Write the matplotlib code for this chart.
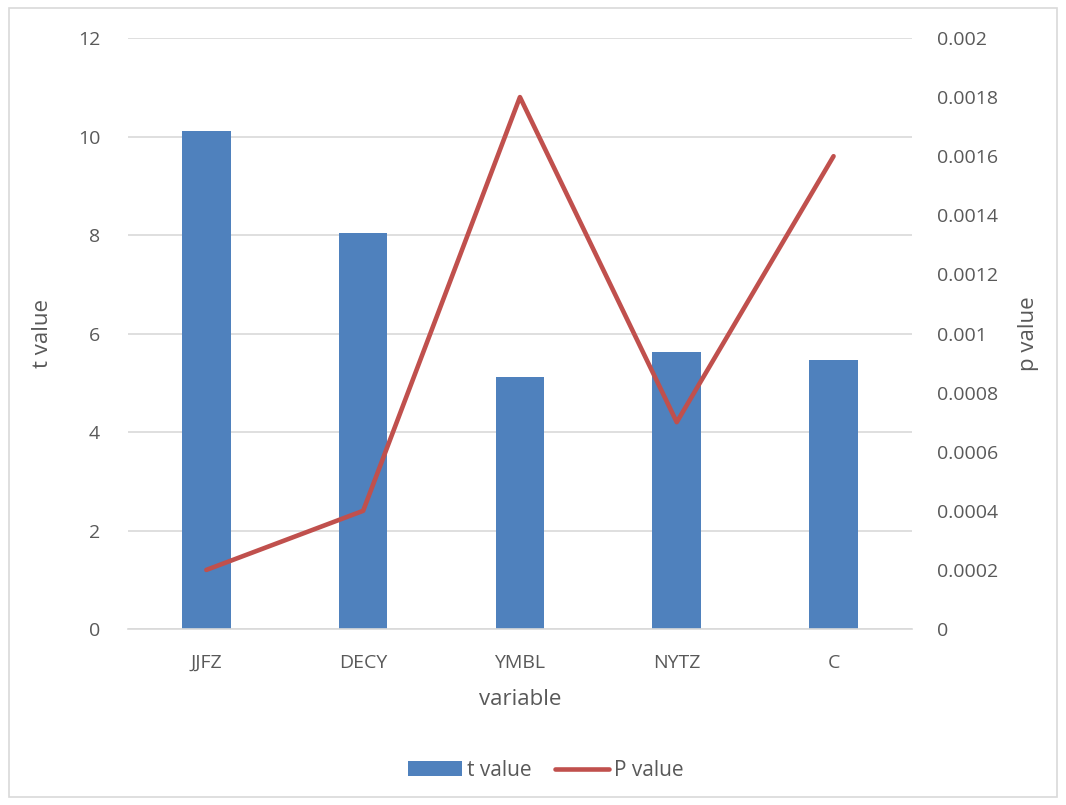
import matplotlib.pyplot as plt
from matplotlib.patches import Rectangle

plt.rcParams['font.family'] = ['Open Sans', 'DejaVu Sans']

# datos
variables = ['JJFZ', 'DECY', 'YMBL', 'NYTZ', 'C']
t_values = [10.11, 8.04, 5.12, 5.62, 5.46]
p_values = [0.0002, 0.0004, 0.0018, 0.0007, 0.0016]

txt = '#595959'
fig = plt.figure(figsize=(10.66, 8.05), dpi=100)
ax = fig.add_axes([0.12, 0.2186, 0.7355, 0.7342])

x = range(len(variables))
barras = ax.bar(x, t_values, width=0.31, color='#4F81BD', label='t value', zorder=2)
ax.set_xlim(-0.5, 4.5)
ax.set_ylim(0, 12)
ax.set_yticks(range(0, 13, 2))
ax.set_xticks(list(x))
ax.set_xticklabels(variables)
ax.grid(axis='y', color='#D9D9D9', linewidth=1.2, zorder=0)
ax.set_axisbelow(True)
for s in ['top', 'right', 'left']:
    ax.spines[s].set_visible(False)
ax.spines['bottom'].set_color('#D9D9D9')
ax.spines['bottom'].set_linewidth(1.2)
ax.tick_params(axis='both', length=0, labelsize=14, colors=txt)
ax.tick_params(axis='x', pad=18)
ax.tick_params(axis='y', pad=20)
ax.set_xlabel('variable', fontsize=16, color=txt, labelpad=12)
ax.set_ylabel('t value', fontsize=16, color=txt, labelpad=18)

ax2 = ax.twinx()
linea, = ax2.plot(list(x), p_values, color='#C0504D', linewidth=3.3, label='P value',
                  solid_capstyle='round', zorder=3)
ax2.set_ylim(0, 0.002)
ax2.set_yticks([i * 0.0002 for i in range(11)])
ax2.set_yticklabels(['0', '0.0002', '0.0004', '0.0006', '0.0008', '0.001',
                     '0.0012', '0.0014', '0.0016', '0.0018', '0.002'])
for s in ['top', 'right', 'left', 'bottom']:
    ax2.spines[s].set_visible(False)
ax2.tick_params(axis='y', length=0, labelsize=14, colors=txt, pad=18)
ax2.set_ylabel('p value', fontsize=16, color=txt, labelpad=14)

# leyenda abajo
fig.legend([barras, linea], ['t value', 'P value'], loc='center', bbox_to_anchor=(0.512, 0.043),
           ncol=2, frameon=False, fontsize=15, labelcolor=txt, handlelength=2.6,
           columnspacing=1.1, handletextpad=0.25)

# borde exterior
fig.patches.append(Rectangle((0.008, 0.01), 0.984, 0.98, transform=fig.transFigure,
                             fill=False, edgecolor='#D9D9D9', linewidth=1.2))

plt.savefig('out.png', dpi=100)
